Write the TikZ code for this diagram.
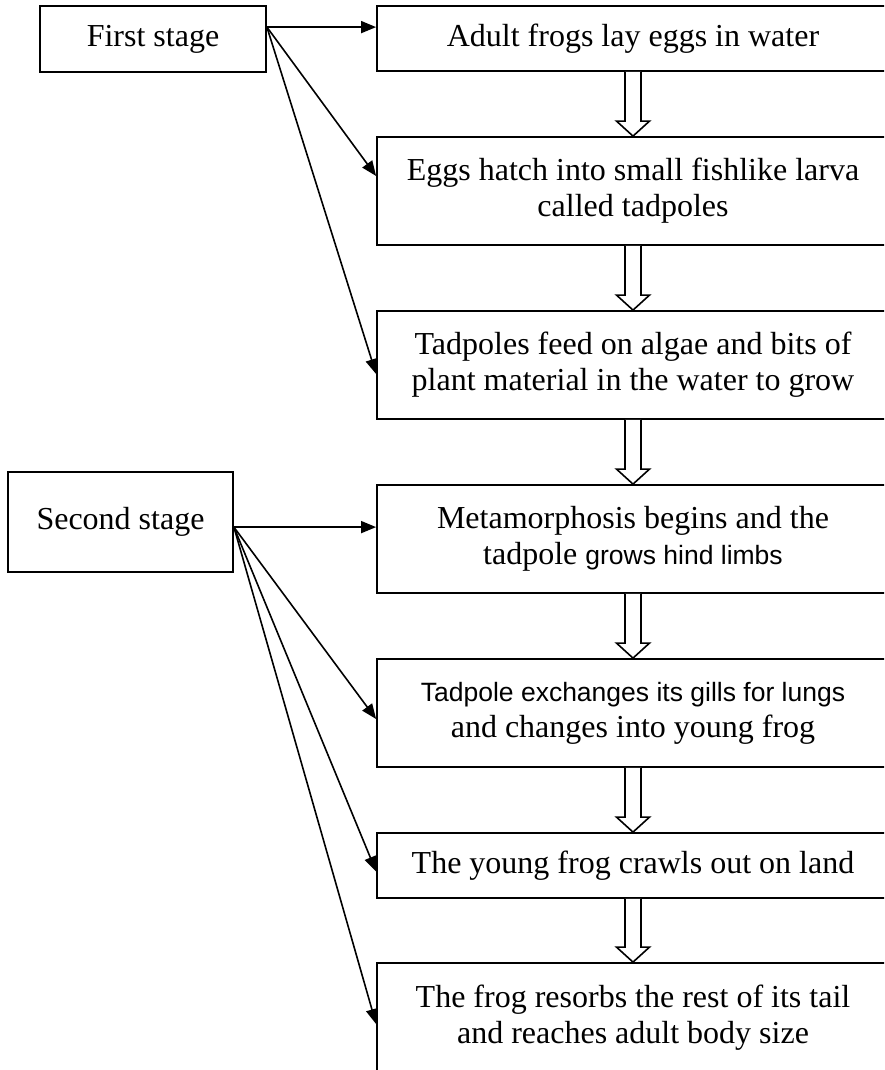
\documentclass[tikz,border=0pt]{standalone}
\usepackage{fontspec}
\setmainfont{Liberation Serif}
\newfontfamily\sansf{Liberation Sans}
\usetikzlibrary{arrows.meta,calc}

% hollow block arrow from the bottom of one box to the top of the next
\newcommand\hollowarrow[2]{%
  \draw[blockarrow]
    ($(#1.south)+(-8,0)$) -- ($(#2.north)+(-8,-15)$) -- ($(#2.north)+(-16.5,-15)$)
    -- (#2.north) -- ($(#2.north)+(16.5,-15)$) -- ($(#2.north)+(8,-15)$)
    -- ($(#1.south)+(8,0)$);}

\newcommand\sanstext[1]{{\sansf\fontsize{26.5}{36}\selectfont #1}}

\begin{document}
\begin{tikzpicture}[x=1pt,y=-1pt,
  box/.style={draw, line width=1.8pt, fill=white, inner sep=0pt, align=center,
              font=\fontsize{32}{36}\selectfont},
  stagebox/.style={box},
  stepbox/.style={box, minimum width=512pt},
  link/.style={line width=1.6pt, -{Triangle[length=15pt,width=12pt]}},
  blockarrow/.style={line width=1.6pt, fill=white, line join=miter}]

\useasboundingbox (0,0) rectangle (884,1070);
\fill[white] (0,0) rectangle (884,1070);
\clip (0,0) rectangle (884,1070);

% stage labels
\node[stagebox, minimum width=226pt, minimum height=66pt] (fs) at (153,39) {First stage};
\node[stagebox, minimum width=225pt, minimum height=100pt] (ss) at (120.5,522) {Second stage};

% life-cycle steps
\node[stepbox, minimum height=65pt]  (b1) at (633,38.5) {Adult frogs lay eggs in water};
\node[stepbox, minimum height=108pt] (b2) at (633,191) {Eggs hatch into small fishlike larva\\called tadpoles};
\node[stepbox, minimum height=108pt] (b3) at (633,365) {Tadpoles feed on algae and bits of\\plant material in the water to grow};
\node[stepbox, minimum height=108pt] (b4) at (633,539) {Metamorphosis begins and the\\tadpole \sanstext{grows hind limbs}};
\node[stepbox, minimum height=108pt] (b5) at (633,713) {\sanstext{Tadpole exchanges its gills for lungs}\\and changes into young frog};
\node[stepbox, minimum height=65pt]  (b6) at (633,865.5) {The young frog crawls out on land};
\node[stepbox, minimum height=110pt] (b7) at (633,1018) {The frog resorbs the rest of its tail\\and reaches adult body size};

% flow between steps
\hollowarrow{b1}{b2}
\hollowarrow{b2}{b3}
\hollowarrow{b3}{b4}
\hollowarrow{b4}{b5}
\hollowarrow{b5}{b6}
\hollowarrow{b6}{b7}

% fan-out points and arrow ends
\coordinate (o1) at ($(fs.north east)+(0,22)$);
\coordinate (o2) at ($(ss.north east)+(0,56)$);
\coordinate (t1) at (b1.west |- o1);
\coordinate (t2) at ($(b2.west)+(0,-15)$);
\coordinate (t3) at ($(b3.west)+(0,9)$);
\coordinate (t4) at (b4.west |- o2);
\coordinate (t5) at ($(b5.west)+(0,6)$);
\coordinate (t6) at ($(b6.west)+(0,6)$);
\coordinate (t7) at ($(b7.west)+(0,6)$);

\foreach \t in {t1,t2,t3} \draw[link] (o1) -- (\t);
\foreach \t in {t4,t5,t6,t7} \draw[link] (o2) -- (\t);
\end{tikzpicture}
\end{document}
